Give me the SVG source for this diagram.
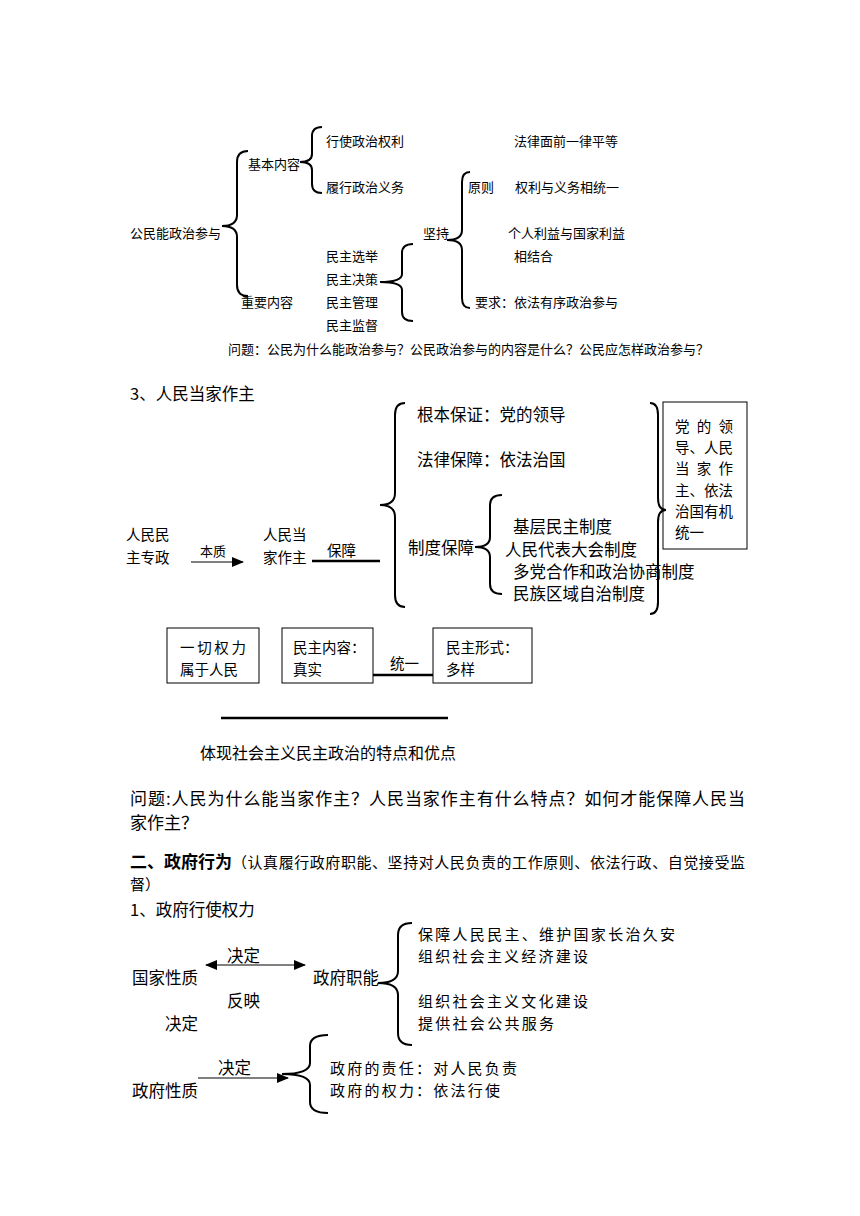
<svg xmlns="http://www.w3.org/2000/svg" width="860" height="1216" viewBox="0 0 860 1216">
<style>
text{font-family:"Noto Sans CJK SC","Liberation Serif",sans-serif;fill:#000}
.s{font-size:13px}
.m{font-size:14.5px}
.l{font-size:16.5px}
.xl{font-size:17px}
.r{font-size:15px}
.b{font-weight:bold}
.br{fill:none;stroke:#000;stroke-width:2}
.ln{fill:none;stroke:#000;stroke-width:1}
.th{fill:none;stroke:#000;stroke-width:2.5}
.bx{fill:none;stroke:#000;stroke-width:1}
</style>
<defs>
<marker id="ah" markerUnits="userSpaceOnUse" markerWidth="12" markerHeight="10" refX="11" refY="5" orient="auto-start-reverse">
<path d="M0,0 L12,5 L0,10 Z" fill="#000"/>
</marker>
</defs>
<rect width="860" height="1216" fill="#fff"/>

<g id="connectors">
<path class="br" d="M248,151 Q237,151 237,162 L237,215 Q237,226 222,226 Q237,226 237,237 L237,285 Q237,296 248,296"/>
<path class="br" d="M322,127 Q312,127 312,136 L312,154 Q312,162 300,162 Q312,162 312,170 L312,184 Q312,193 322,193"/>
<path class="br" d="M413,244 Q402,244 402,253 L402,274 Q402,282 380,282 Q402,282 402,290 L402,312 Q402,321 413,321"/>
<path class="br" d="M470,172 Q462,172 462,182 L462,230 Q462,240 447,240 Q462,240 462,250 L462,298 Q462,308 470,308"/>
<path class="br" d="M405,403 Q395,403 395,415 L395,493 Q395,505 380,505 Q395,505 395,517 L395,595 Q395,607 405,607"/>
<path class="br" d="M502,495 Q490,495 490,505 L490,537 Q490,547 475,547 Q490,547 490,557 L490,584 Q490,594 502,594"/>
<path class="br" d="M650,403 Q658,403 658,415 L658,498 Q658,510 666,510 Q658,510 658,522 L658,602 Q658,614 650,614"/>
<line class="ln" x1="191" y1="562" x2="243" y2="562" marker-end="url(#ah)"/>
<line class="th" x1="312" y1="561" x2="380" y2="561"/>
<line class="th" x1="373" y1="675" x2="433" y2="675"/>
<line class="th" x1="221" y1="718" x2="448" y2="718"/>
<line class="ln" x1="206" y1="965" x2="305" y2="965" marker-start="url(#ah)" marker-end="url(#ah)"/>
<path class="br" d="M412,923 Q398,923 398,935 L398,971 Q398,983 378,983 Q398,983 398,995 L398,1033 Q398,1045 412,1045"/>
<line class="ln" x1="198" y1="1078" x2="288" y2="1078" marker-end="url(#ah)"/>
<path class="br" d="M328,1035 Q310,1035 310,1046 L310,1063 Q310,1074 282,1074 Q310,1074 310,1085 L310,1102 Q310,1113 328,1113"/>
</g>

<g id="n-participation">
<text class="s" x="130" y="238">公民能政治参与</text>
</g>
<g id="n-basic">
<text class="s" x="248" y="169">基本内容</text>
<text class="s" x="326" y="146">行使政治权利</text>
<text class="s" x="326" y="192">履行政治义务</text>
</g>
<g id="n-important">
<text class="s" x="241" y="307">重要内容</text>
<text class="s" x="326" y="261">民主选举</text>
<text class="s" x="326" y="284">民主决策</text>
<text class="s" x="326" y="307">民主管理</text>
<text class="s" x="326" y="330">民主监督</text>
</g>
<g id="n-adhere">
<text class="s" x="423" y="238">坚持</text>
<text class="s" x="468" y="192">原则</text>
<text class="s" x="514" y="146">法律面前一律平等</text>
<text class="s" x="515" y="192">权利与义务相统一</text>
<text class="s" x="508" y="238">个人利益与国家利益</text>
<text class="s" x="514" y="261">相结合</text>
<text class="s" x="475" y="307">要求：依法有序政治参与</text>
</g>
<g id="q1">
<text class="s" x="228" y="354">问题：公民为什么能政治参与？公民政治参与的内容是什么？公民应怎样政治参与？</text>
</g>

<g id="h3">
<text class="l" x="130" y="400">3、人民当家作主</text>
</g>
<g id="n-dictatorship">
<text class="m" x="126" y="540">人民民</text>
<text class="m" x="126" y="563">主专政</text>
<text class="s" x="200" y="556">本质</text>
</g>
<g id="n-masters">
<text class="m" x="263" y="540">人民当</text>
<text class="m" x="263" y="563">家作主</text>
<text class="m" x="327" y="556">保障</text>
</g>
<g id="n-guarantees">
<text class="l" x="417" y="421">根本保证：党的领导</text>
<text class="l" x="417" y="466">法律保障：依法治国</text>
<text class="l" x="408" y="554">制度保障</text>
<text class="l" x="513" y="533">基层民主制度</text>
<text class="l" x="505" y="556">人民代表大会制度</text>
<text class="l" x="513" y="578">多党合作和政治协商制度</text>
<text class="l" x="513" y="600">民族区域自治制度</text>
</g>
<g id="n-unity-box">
<rect class="bx" x="663" y="402" width="84" height="147"/>
<text class="m" x="675" y="432" textLength="58" lengthAdjust="spacing">党的领</text>
<text class="m" x="675" y="453">导、人民</text>
<text class="m" x="675" y="474" textLength="58" lengthAdjust="spacing">当家作</text>
<text class="m" x="675" y="496">主、依法</text>
<text class="m" x="675" y="517">治国有机</text>
<text class="m" x="675" y="538">统一</text>
</g>
<g id="n-allpower">
<rect class="bx" x="167" y="628" width="92" height="55"/>
<text class="m" x="180" y="653" textLength="66" lengthAdjust="spacing">一切权力</text>
<text class="m" x="180" y="675">属于人民</text>
</g>
<g id="n-content">
<rect class="bx" x="282" y="628" width="91" height="55"/>
<text class="m" x="293" y="653">民主内容：</text>
<text class="m" x="293" y="675">真实</text>
</g>
<g id="n-form">
<rect class="bx" x="433" y="628" width="99" height="55"/>
<text class="m" x="446" y="653">民主形式：</text>
<text class="m" x="446" y="675">多样</text>
<text class="m" x="390" y="669">统一</text>
</g>
<g id="n-embody">
<text style="font-size:16px" x="200" y="759">体现社会主义民主政治的特点和优点</text>
</g>
<g id="q2">
<text class="xl" x="130" y="805" textLength="615" lengthAdjust="spacing">问题:人民为什么能当家作主？人民当家作主有什么特点？如何才能保障人民当</text>
<text class="xl" x="130" y="829">家作主？</text>
</g>
<g id="h2">
<text class="xl b" x="130" y="868">二、政府行为</text>
<text style="font-size:15px" x="232" y="868" textLength="513" lengthAdjust="spacing">（认真履行政府职能、坚持对人民负责的工作原则、依法行政、自觉接受监</text>
<text style="font-size:15px" x="130" y="890">督）</text>
<text class="l" x="130" y="916">1、政府行使权力</text>
</g>
<g id="n-state">
<text class="l" x="132" y="984">国家性质</text>
<text class="l" x="227" y="962">决定</text>
<text class="l" x="227" y="1007">反映</text>
<text class="l" x="165" y="1030">决定</text>
</g>
<g id="n-functions">
<text class="l" x="313" y="984">政府职能</text>
<text class="r" x="418" y="940" textLength="257" lengthAdjust="spacing">保障人民民主、维护国家长治久安</text>
<text class="r" x="418" y="962" textLength="170" lengthAdjust="spacing">组织社会主义经济建设</text>
<text class="r" x="418" y="1007" textLength="170" lengthAdjust="spacing">组织社会主义文化建设</text>
<text class="r" x="418" y="1029" textLength="136" lengthAdjust="spacing">提供社会公共服务</text>
</g>
<g id="n-govnature">
<text class="l" x="132" y="1097">政府性质</text>
<text class="l" x="218" y="1074">决定</text>
<text class="r" x="330" y="1074" textLength="187" lengthAdjust="spacing">政府的责任：对人民负责</text>
<text class="r" x="330" y="1096" textLength="170" lengthAdjust="spacing">政府的权力：依法行使</text>
</g>
</svg>
